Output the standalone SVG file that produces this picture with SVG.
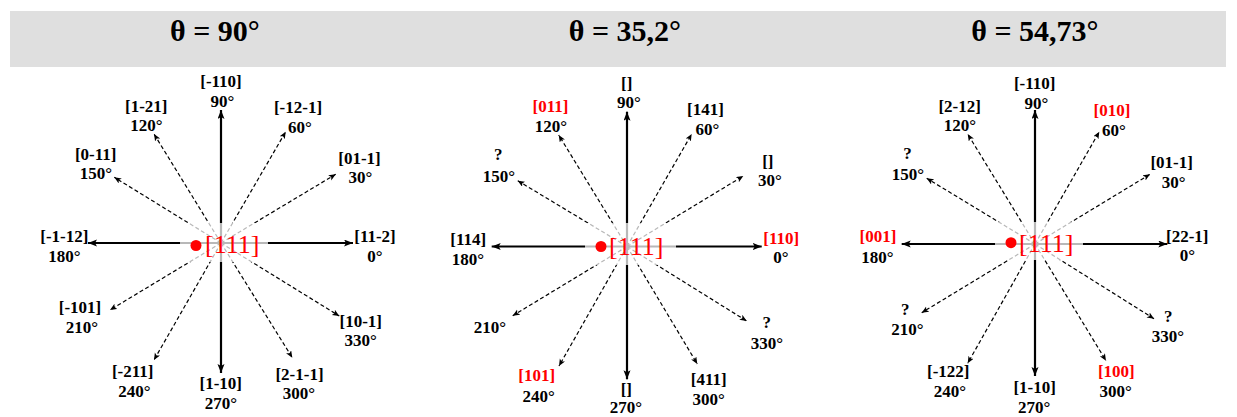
<svg xmlns="http://www.w3.org/2000/svg" width="1237" height="417" viewBox="0 0 1237 417">
<style>
.title{font-family:"Liberation Serif",serif;font-weight:bold;font-size:30px;text-anchor:middle;fill:#000}
.lbl{font-family:"Liberation Serif",serif;font-weight:bold;font-size:17px;text-anchor:middle;fill:#000}
.red{fill:#ff0000}
.ctr{font-family:"Liberation Serif",serif;font-size:26px;fill:#ff0000}
.solid{stroke:#000;stroke-width:2.2;fill:none;marker-end:url(#hs)}
.dash{stroke:#000;stroke-width:1.2;stroke-dasharray:4 2.5;fill:none;marker-end:url(#hd)}
.veil{fill:#fff;fill-opacity:0.72}
.dot{fill:#ff0000}
</style>
<defs>
<marker id="hs" markerUnits="userSpaceOnUse" markerWidth="10" markerHeight="8" refX="9" refY="3.5" orient="auto"><path d="M0,0 L9,3.5 L0,7 L2,3.5 z" fill="#000"/></marker>
<marker id="hd" markerUnits="userSpaceOnUse" markerWidth="8" markerHeight="7" refX="7" refY="3" orient="auto"><path d="M0,0 L7,3 L0,6 L1.8,3 z" fill="#000"/></marker>
</defs>
<rect x="10" y="11" width="1216" height="56" fill="#dfdfdf"/>
<g id="titles">
<text class="title" x="215" y="41">θ = 90°</text>
<text class="title" x="625" y="41">θ = 35,2°</text>
<text class="title" x="1035" y="41">θ = 54,73°</text>
</g>
<g id="connectors">
<g id="conn-p1">
<line class="solid" x1="221" y1="243" x2="353" y2="243"/>
<line class="dash" x1="221" y1="243" x2="335.7" y2="174.3"/>
<line class="dash" x1="221" y1="243" x2="285.7" y2="131.7"/>
<line class="solid" x1="221" y1="243" x2="221" y2="110"/>
<line class="dash" x1="221" y1="243" x2="154" y2="134"/>
<line class="dash" x1="221" y1="243" x2="114.3" y2="177.3"/>
<line class="solid" x1="221" y1="243" x2="88" y2="243"/>
<line class="dash" x1="221" y1="243" x2="110" y2="310"/>
<line class="dash" x1="221" y1="243" x2="154" y2="360"/>
<line class="solid" x1="221" y1="243" x2="221" y2="373"/>
<line class="dash" x1="221" y1="243" x2="292.3" y2="357.7"/>
<line class="dash" x1="221" y1="243" x2="339.3" y2="316"/>
</g>
<g id="conn-p2">
<line class="solid" x1="627" y1="246.5" x2="761.7" y2="246.5"/>
<line class="dash" x1="627" y1="246.5" x2="743.3" y2="176"/>
<line class="dash" x1="627" y1="246.5" x2="691.7" y2="134"/>
<line class="solid" x1="627" y1="246.5" x2="627" y2="111.7"/>
<line class="dash" x1="627" y1="246.5" x2="558.7" y2="135"/>
<line class="dash" x1="627" y1="246.5" x2="517.7" y2="180.7"/>
<line class="solid" x1="627" y1="246.5" x2="491.7" y2="246.5"/>
<line class="dash" x1="627" y1="246.5" x2="512.7" y2="315.7"/>
<line class="dash" x1="627" y1="246.5" x2="559" y2="366"/>
<line class="solid" x1="627" y1="246.5" x2="627" y2="379.3"/>
<line class="dash" x1="627" y1="246.5" x2="697.3" y2="364"/>
<line class="dash" x1="627" y1="246.5" x2="746.7" y2="321"/>
</g>
<g id="conn-p3">
<line class="solid" x1="1035" y1="244" x2="1167.3" y2="244"/>
<line class="dash" x1="1035" y1="244" x2="1150" y2="174.3"/>
<line class="dash" x1="1035" y1="244" x2="1099.3" y2="131.7"/>
<line class="solid" x1="1035" y1="244" x2="1035" y2="110"/>
<line class="dash" x1="1035" y1="244" x2="967.7" y2="134"/>
<line class="dash" x1="1035" y1="244" x2="926.7" y2="178.3"/>
<line class="solid" x1="1035" y1="244" x2="901.7" y2="244"/>
<line class="dash" x1="1035" y1="244" x2="921.7" y2="312.7"/>
<line class="dash" x1="1035" y1="244" x2="967.7" y2="363.3"/>
<line class="solid" x1="1035" y1="244" x2="1035" y2="376"/>
<line class="dash" x1="1035" y1="244" x2="1106" y2="360.7"/>
<line class="dash" x1="1035" y1="244" x2="1154" y2="318.7"/>
</g>
</g>
<g id="center-p1">
<rect class="veil" x="180" y="223" width="88" height="39"/>
<circle class="dot" cx="196" cy="245.5" r="5.5"/>
<text class="ctr" x="205" y="253">[111]</text>
</g>
<g id="center-p2">
<rect class="veil" x="585" y="223" width="91" height="42"/>
<circle class="dot" cx="601" cy="246.5" r="5.5"/>
<text class="ctr" x="609" y="255">[111]</text>
</g>
<g id="center-p3">
<rect class="veil" x="995" y="222" width="88" height="38"/>
<circle class="dot" cx="1011" cy="242.7" r="5.5"/>
<text class="ctr" x="1019" y="252">[111]</text>
</g>
<g id="p1-0"><text class="lbl" x="375" y="241.7">[11-2]</text><text class="lbl" x="375" y="261.7">0°</text></g>
<g id="p1-30"><text class="lbl" x="359.5" y="164">[01-1]</text><text class="lbl" x="360.5" y="183.3">30°</text></g>
<g id="p1-60"><text class="lbl" x="298" y="113.3">[-12-1]</text><text class="lbl" x="300" y="132.7">60°</text></g>
<g id="p1-90"><text class="lbl" x="221" y="87.3">[-110]</text><text class="lbl" x="222.5" y="107.3">90°</text></g>
<g id="p1-120"><text class="lbl" x="146.3" y="111.7">[1-21]</text><text class="lbl" x="146.3" y="130.5">120°</text></g>
<g id="p1-150"><text class="lbl" x="95.7" y="160">[0-11]</text><text class="lbl" x="96" y="179">150°</text></g>
<g id="p1-180"><text class="lbl" x="64.3" y="241.7">[-1-12]</text><text class="lbl" x="64.3" y="262.3">180°</text></g>
<g id="p1-210"><text class="lbl" x="80" y="313.3">[-101]</text><text class="lbl" x="82" y="333.3">210°</text></g>
<g id="p1-240"><text class="lbl" x="132.7" y="377.3">[-211]</text><text class="lbl" x="134.5" y="396.7">240°</text></g>
<g id="p1-270"><text class="lbl" x="220.8" y="389.3">[1-10]</text><text class="lbl" x="220.8" y="409.3">270°</text></g>
<g id="p1-300"><text class="lbl" x="299.5" y="380">[2-1-1]</text><text class="lbl" x="298.8" y="399.3">300°</text></g>
<g id="p1-330"><text class="lbl" x="360.8" y="326.7">[10-1]</text><text class="lbl" x="360.7" y="346">330°</text></g>
<g id="p2-0"><text class="lbl red" x="781.2" y="244">[110]</text><text class="lbl" x="780.8" y="263.3">0°</text></g>
<g id="p2-30"><text class="lbl" x="767.8" y="166.7">[]</text><text class="lbl" x="770" y="186">30°</text></g>
<g id="p2-60"><text class="lbl" x="705.5" y="115">[141]</text><text class="lbl" x="707.5" y="135">60°</text></g>
<g id="p2-90"><text class="lbl" x="626.7" y="89.3">[]</text><text class="lbl" x="628.8" y="108.3">90°</text></g>
<g id="p2-120"><text class="lbl red" x="550.5" y="111.7">[011]</text><text class="lbl" x="550.8" y="131.7">120°</text></g>
<g id="p2-150"><text class="lbl" x="498.3" y="160">?</text><text class="lbl" x="498.8" y="181.7">150°</text></g>
<g id="p2-180"><text class="lbl" x="468.3" y="245">[114]</text><text class="lbl" x="467.8" y="265">180°</text></g>
<g id="p2-210"><text class="lbl" x="490" y="332.7">210°</text></g>
<g id="p2-240"><text class="lbl red" x="536.7" y="380.7">[101]</text><text class="lbl" x="538.7" y="401.7">240°</text></g>
<g id="p2-270"><text class="lbl" x="626.3" y="395">[]</text><text class="lbl" x="626" y="413">270°</text></g>
<g id="p2-300"><text class="lbl" x="708.8" y="385">[411]</text><text class="lbl" x="708.7" y="405">300°</text></g>
<g id="p2-330"><text class="lbl" x="766.7" y="328.3">?</text><text class="lbl" x="767" y="349.3">330°</text></g>
<g id="p3-0"><text class="lbl" x="1187.3" y="241.7">[22-1]</text><text class="lbl" x="1187.5" y="260.7">0°</text></g>
<g id="p3-30"><text class="lbl" x="1171.7" y="168.3">[01-1]</text><text class="lbl" x="1173.7" y="188.3">30°</text></g>
<g id="p3-60"><text class="lbl red" x="1112" y="116">[010]</text><text class="lbl" x="1113.8" y="136">60°</text></g>
<g id="p3-90"><text class="lbl" x="1034.7" y="89.3">[-110]</text><text class="lbl" x="1036.5" y="109.3">90°</text></g>
<g id="p3-120"><text class="lbl" x="959.7" y="111.7">[2-12]</text><text class="lbl" x="960" y="131">120°</text></g>
<g id="p3-150"><text class="lbl" x="907.5" y="159.3">?</text><text class="lbl" x="907.8" y="180">150°</text></g>
<g id="p3-180"><text class="lbl red" x="878" y="241.7">[001]</text><text class="lbl" x="877.5" y="263.3">180°</text></g>
<g id="p3-210"><text class="lbl" x="905.3" y="315">?</text><text class="lbl" x="907.5" y="335">210°</text></g>
<g id="p3-240"><text class="lbl" x="948.3" y="376.7">[-122]</text><text class="lbl" x="950" y="396.7">240°</text></g>
<g id="p3-270"><text class="lbl" x="1034.7" y="392.7">[1-10]</text><text class="lbl" x="1034.2" y="412.7">270°</text></g>
<g id="p3-300"><text class="lbl red" x="1116.3" y="376.7">[100]</text><text class="lbl" x="1115.7" y="396.7">300°</text></g>
<g id="p3-330"><text class="lbl" x="1168.3" y="321.7">?</text><text class="lbl" x="1168" y="341.7">330°</text></g>
</svg>
